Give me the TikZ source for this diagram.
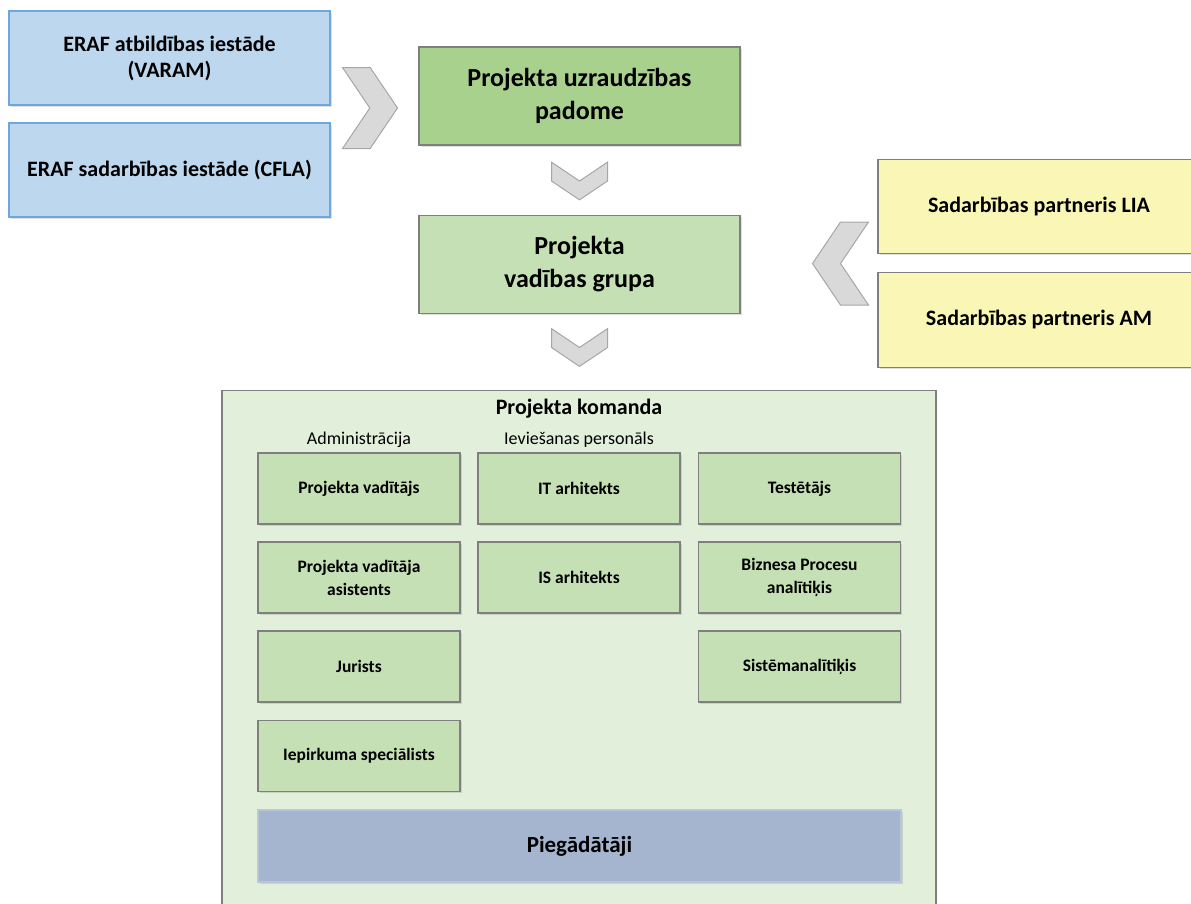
\documentclass[tikz,border=0pt]{standalone}
\usepackage{fontspec}
\setmainfont{Carlito}
\usepackage{tikz}
\usetikzlibrary{shapes.symbols,shadows}

\definecolor{entfill}{HTML}{BDD7EE}
\definecolor{entline}{HTML}{6FA6DC}
\definecolor{boardfill}{HTML}{A9D18E}
\definecolor{groupfill}{HTML}{C5E0B4}
\definecolor{partfill}{HTML}{FAF7B6}
\definecolor{teamfill}{HTML}{E2EFDA}
\definecolor{supfill}{HTML}{A5B5CF}
\definecolor{supline}{HTML}{B8C6DC}
\definecolor{chevfill}{HTML}{D9D9D9}
\definecolor{chevline}{HTML}{A6A6A6}
\definecolor{boxline}{HTML}{7F7F7F}

\tikzset{
	box/.style={rectangle, draw=boxline, line width=1.3pt, align=center, inner sep=2pt,
		drop shadow={opacity=0.25, shadow xshift=1.5pt, shadow yshift=-1.5pt}},
	entity/.style={box, draw=entline, fill=entfill, minimum width=321pt, minimum height=94pt,
		font=\fontsize{22}{26}\selectfont\bfseries},
	board/.style={box, fill=boardfill, minimum width=321pt, minimum height=98pt,
		font=\fontsize{26}{33}\selectfont\bfseries},
	partner/.style={box, fill=partfill, minimum width=322pt, minimum height=94pt,
		font=\fontsize{22}{26}\selectfont\bfseries},
	role/.style={box, fill=groupfill, minimum width=202pt, minimum height=71pt,
		font=\fontsize{17.5}{23}\selectfont\bfseries},
	chev/.style={signal, signal from=west, signal to=east, draw=chevline, fill=chevfill,
		line width=1pt, inner sep=0pt, signal pointer angle=112},
	head/.style={font=\fontsize{18}{20}\selectfont}
}

\begin{document}
\begin{tikzpicture}[x=1pt,y=-1pt]

\useasboundingbox (0,0) rectangle (1191,903);

% team area
\node[rectangle, draw=boxline, line width=1.3pt, fill=teamfill, anchor=north,
	minimum width=714pt, minimum height=530pt] (komanda) at (579,390) {};
\node[font=\fontsize{22}{24}\selectfont\bfseries] (komt) at (579,409) {Projekta komanda};
\node[head] (admh) at (359,440) {Administrācija};
\node[head] (ievh) at (579,440) {Ieviešanas personāls};

% left side
\node[entity] (varam) at (169.5,58) {ERAF atbildības iestāde\\(VARAM)};
\node[entity] (cfla) at (169.5,170) {ERAF sadarbības iestāde (CFLA)};

% middle
\node[board] (padome) at (579.5,96) {Projekta uzraudzības\\padome};
\node[board, fill=groupfill] (grupa) at (579.5,264.5) {Projekta\\vadības grupa};

% right side
\node[partner] (lia) at (1039,206.5) {Sadarbības partneris LIA};
\node[partner, minimum height=95pt] (am) at (1039,320) {Sadarbības partneris AM};

% chevrons
\node[chev, minimum width=55pt, minimum height=81pt] (chin) at (370,108) {};
\node[chev, minimum width=36pt, minimum height=56pt, rotate=-90] (chdown) at (579.5,181) {};
\node[chev, minimum width=36pt, minimum height=56pt, rotate=-90] (chteam) at (579.5,347.5) {};
\node[chev, minimum width=55pt, minimum height=83pt, rotate=180] (chpart) at (840.5,263.5) {};

% roles
\node[role] (pv) at (359,488.5) {Projekta vadītājs};
\node[role] (pva) at (359,577.5) {Projekta vadītāja\\asistents};
\node[role] (jur) at (359,666.5) {Jurists};
\node[role] (iep) at (359,756) {Iepirkuma speciālists};
\node[role] (ita) at (579,488.5) {IT arhitekts};
\node[role] (isa) at (579,577.5) {IS arhitekts};
\node[role] (test) at (799.5,488.5) {Testētājs};
\node[role] (bpa) at (799.5,577.5) {Biznesa Procesu\\analītiķis};
\node[role] (sa) at (799.5,666.5) {Sistēmanalītiķis};

\node[box, draw=supline, fill=supfill, minimum width=643pt, minimum height=72pt,
	font=\fontsize{23}{26}\selectfont\bfseries] (pieg) at (579.5,846) {Piegādātāji};

\end{tikzpicture}
\end{document}
